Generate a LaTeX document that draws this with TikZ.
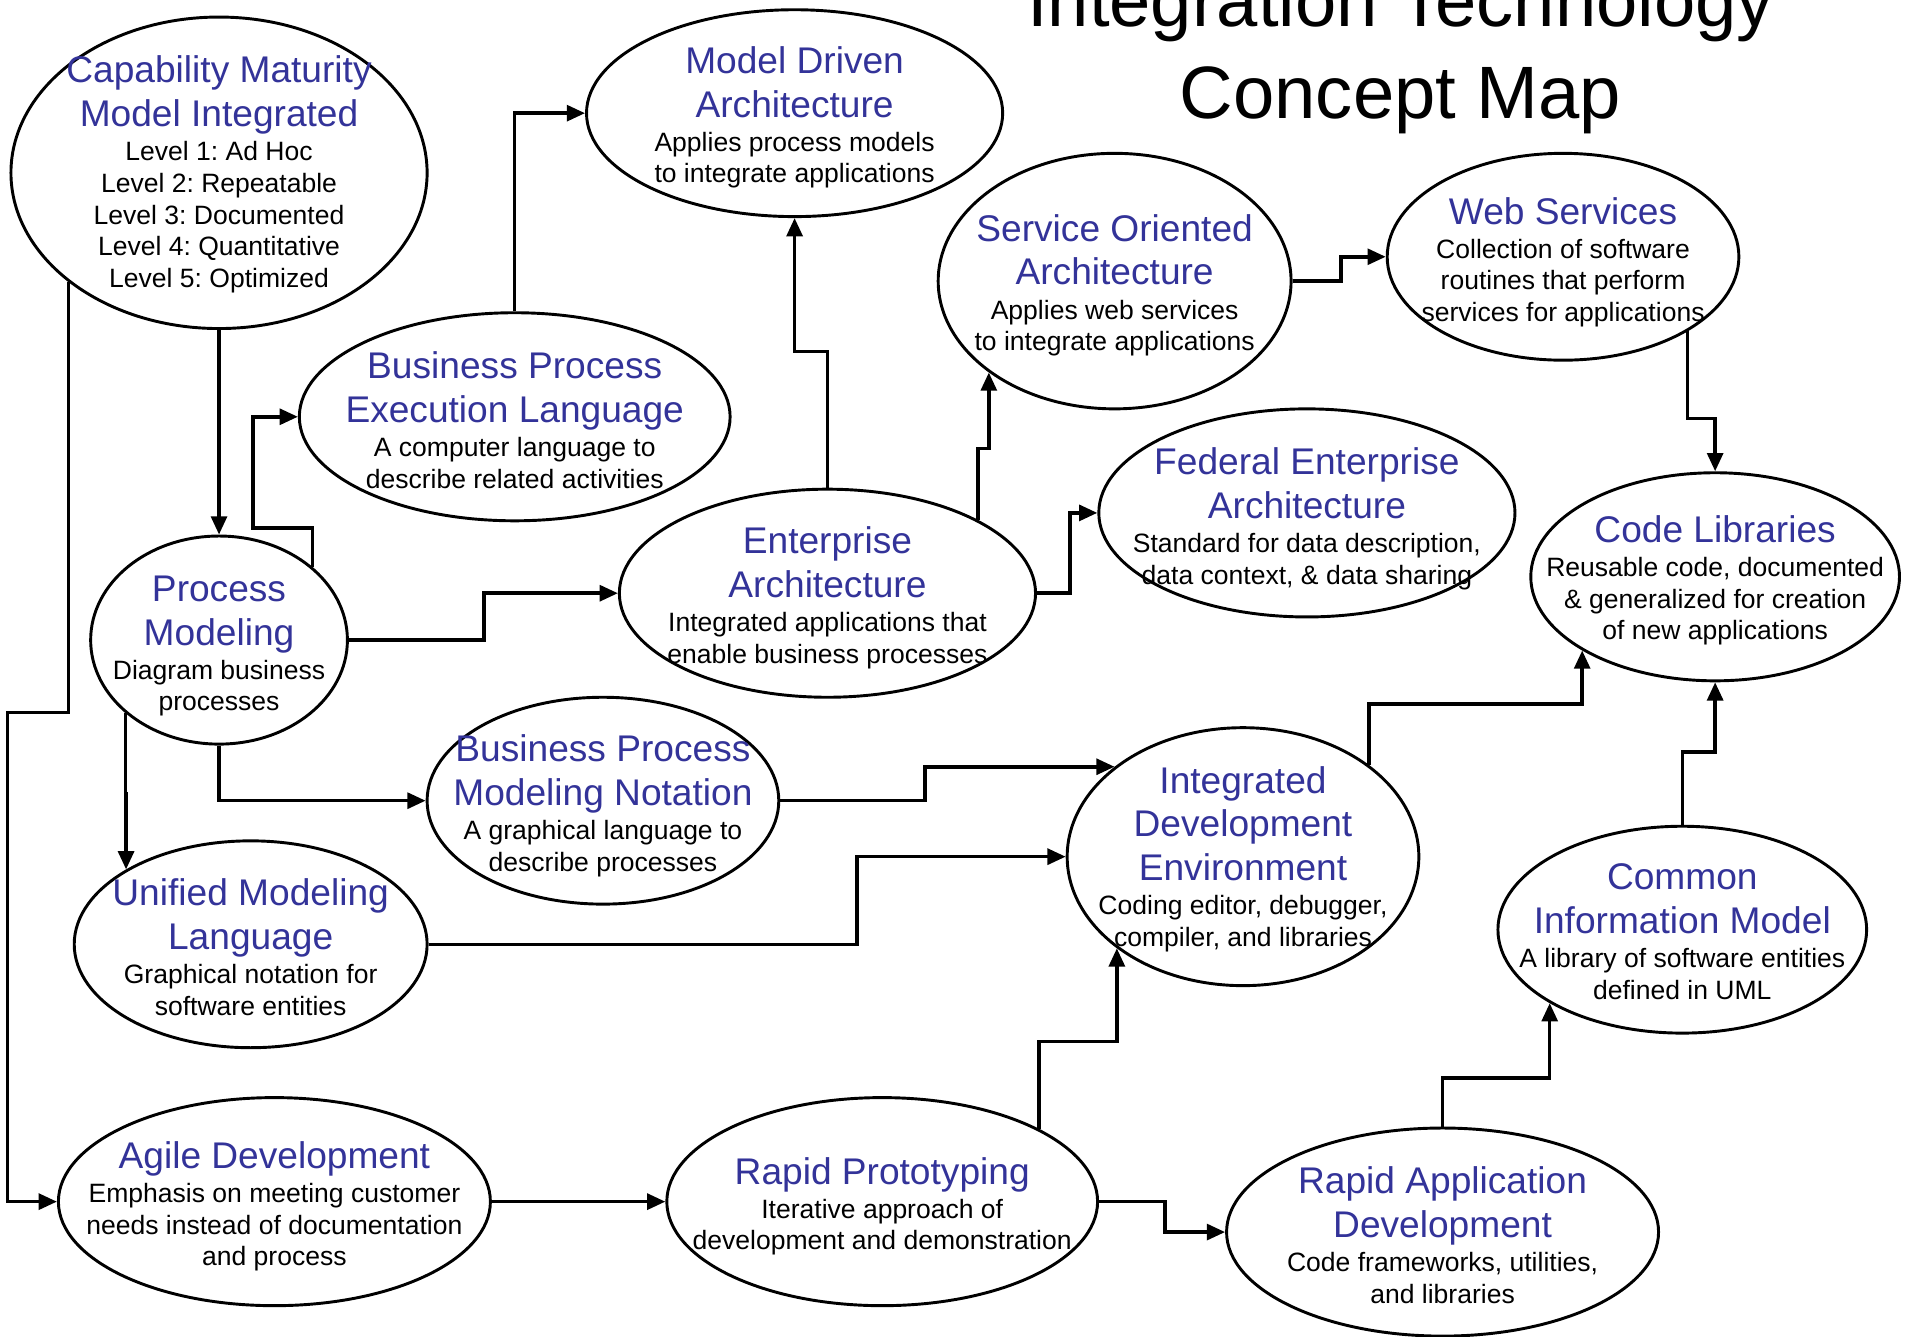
\documentclass[tikz,border=0pt]{standalone}
\usepackage{fontspec}
\setmainfont{Liberation Sans}
\usetikzlibrary{shapes.geometric,arrows.meta}
\definecolor{tblue}{RGB}{51,51,153}
\newcommand\tops{\rule{0pt}{24pt}}
\newcommand\hd[1]{{\fontsize{30.5}{36}\selectfont\color{tblue}#1}}
\frenchspacing
\begin{document}
\begin{tikzpicture}[x=1pt,y=-1pt,
  ell/.style={ellipse, draw, line width=2.4pt, fill=white, inner sep=0pt, outer sep=1.2pt},
  txt/.style={align=center, inner sep=0pt, anchor=north, font={\fontsize{21.8}{26}\selectfont\lineskiplimit=-100pt}},
  conn/.style={line width=2.9pt, -{Triangle[length=15pt,width=13pt]}},
  heading/.style={font=\fontsize{61}{73}\selectfont, inner sep=0pt, anchor=base}]
\useasboundingbox (0,0) rectangle (1568,1098);

% heading
\node[heading] (title1) at (1151,22) {Integration Technology};
\node[heading] (title2) at (1151,97) {Concept Map};

% ellipses
\node[ell, minimum width=342pt, minimum height=256pt] (cmmi) at (180,142) {};
\node[ell, minimum width=342pt, minimum height=170pt] (mda) at (653,93) {};
\node[ell, minimum width=354pt, minimum height=171pt] (bpel) at (423,342.5) {};
\node[ell, minimum width=211pt, minimum height=171pt] (pm) at (180,526) {};
\node[ell, minimum width=342pt, minimum height=171pt] (ea) at (680,487.5) {};
\node[ell, minimum width=290pt, minimum height=210pt] (soa) at (916,231) {};
\node[ell, minimum width=289pt, minimum height=170pt] (ws) at (1284.5,211) {};
\node[ell, minimum width=342pt, minimum height=171pt] (fea) at (1074,421.5) {};
\node[ell, minimum width=303pt, minimum height=171pt] (cl) at (1409.5,474) {};
\node[ell, minimum width=289pt, minimum height=170pt] (bpmn) at (495.5,658) {};
\node[ell, minimum width=290pt, minimum height=170pt] (uml) at (206,776) {};
\node[ell, minimum width=289pt, minimum height=212pt] (ide) at (1021.5,704) {};
\node[ell, minimum width=303pt, minimum height=170pt] (cim) at (1382.5,764) {};
\node[ell, minimum width=355pt, minimum height=171pt] (agile) at (225.5,987.5) {};
\node[ell, minimum width=354pt, minimum height=171pt] (rp) at (725,987.5) {};
\node[ell, minimum width=355pt, minimum height=171pt] (rad) at (1185.5,1012.5) {};

% connectors
\draw[conn] (cmmi.south) -- (pm.north);
\draw[conn] (cmmi.216.76) -- ++(0,353.6) -- ++(-50,0) |- (agile.west);
\draw[conn] (pm.38.7) -- ++(0,-32) -- ++(-49,0) |- (bpel.west);
\draw[conn] (bpel.north) |- (mda.west);
\draw[conn] (ea.north) -- ++(0,-112) -| (mda.south);
\draw[conn] (ea.26.9) -- ++(0,-58.6) -| (soa.216.2);
\draw[conn] (ea.east) -- ++(27,0) |- (fea.west);
\draw[conn] (soa.east) -- ++(40,0) |- (ws.west);
\draw[conn] (ws.329.2) -- ++(0,71.5) -| (cl.north);
\draw[conn] (pm.east) -- ++(111,0) |- (ea.west);
\draw[conn] (pm.south) |- (bpmn.west);
\draw[conn] (pm.218.7) -- ++(0,66) -| (uml.149.4);
\draw[conn] (bpmn.east) -- ++(119,0) |- (ide.145.1);
\draw[conn] (uml.east) -- ++(352,0) |- (ide.west);
\draw[conn] (ide.36.1) -- ++(0,-50.3) -| (cl.209.7);
\draw[conn] (cim.north) -- ++(0,-60) -| (cl.south);
\draw[conn] (agile.east) -- (rp.west);
\draw[conn] (rp.25.5) -- ++(0,-71.5) -| (ide.216.1);
\draw[conn] (rp.east) -- ++(54,0) |- (rad.west);
\draw[conn] (rad.north) -- ++(0,-40) -| (cim.209.7);

% texts
\node[txt] (cmmi-t) at (180,44) {\tops\hd{Capability Maturity}\\[10pt]\hd{Model Integrated}\\[2pt]Level 1: Ad Hoc\\Level 2: Repeatable\\Level 3: Documented\\Level 4: Quantitative\\Level 5: Optimized};
\node[txt] (mda-t) at (653,36) {\tops\hd{Model Driven}\\[10pt]\hd{Architecture}\\[2pt]Applies process models\\to integrate applications};
\node[txt] (bpel-t) at (423,287) {\tops\hd{Business Process}\\[10pt]\hd{Execution Language}\\[2pt]A computer language to\\describe related activities};
\node[txt] (pm-t) at (180,470) {\tops\hd{Process}\\[10pt]\hd{Modeling}\\[2pt]Diagram business\\processes};
\node[txt] (ea-t) at (680,431) {\tops\hd{Enterprise}\\[10pt]\hd{Architecture}\\[2pt]Integrated applications that\\enable business processes};
\node[txt] (soa-t) at (916,174) {\tops\hd{Service Oriented}\\[10pt]\hd{Architecture}\\[2pt]Applies web services\\to integrate applications};
\node[txt] (ws-t) at (1284.5,160) {\tops\hd{Web Services}\\[2pt]Collection of software\\routines that perform\\services for applications};
\node[txt] (fea-t) at (1074,366) {\tops\hd{Federal Enterprise}\\[10pt]\hd{Architecture}\\[2pt]Standard for data description,\\data context, \& data sharing};
\node[txt] (cl-t) at (1409.5,421.6) {\tops\hd{Code Libraries}\\[2pt]Reusable code, documented\\\& generalized for creation\\of new applications};
\node[txt] (bpmn-t) at (495.5,602) {\tops\hd{Business Process}\\[10pt]\hd{Modeling Notation}\\[2pt]A graphical language to\\describe processes};
\node[txt] (uml-t) at (206,720) {\tops\hd{Unified Modeling}\\[10pt]\hd{Language}\\[2pt]Graphical notation for\\software entities};
\node[txt] (ide-t) at (1021.5,627.5) {\tops\hd{Integrated}\\[10pt]\hd{Development}\\[10pt]\hd{Environment}\\[2pt]Coding editor, debugger,\\compiler, and libraries};
\node[txt] (cim-t) at (1382.5,707) {\tops\hd{Common}\\[10pt]\hd{Information Model}\\[2pt]A library of software entities\\defined in UML};
\node[txt] (agile-t) at (225.5,936) {\tops\hd{Agile Development}\\[2pt]Emphasis on meeting customer\\needs instead of documentation\\and process};
\node[txt] (rp-t) at (725,949) {\tops\hd{Rapid Prototyping}\\[2pt]Iterative approach of\\development and demonstration};
\node[txt] (rad-t) at (1185.5,957) {\tops\hd{Rapid Application}\\[10pt]\hd{Development}\\[2pt]Code frameworks, utilities,\\and libraries};
\end{tikzpicture}
\end{document}
